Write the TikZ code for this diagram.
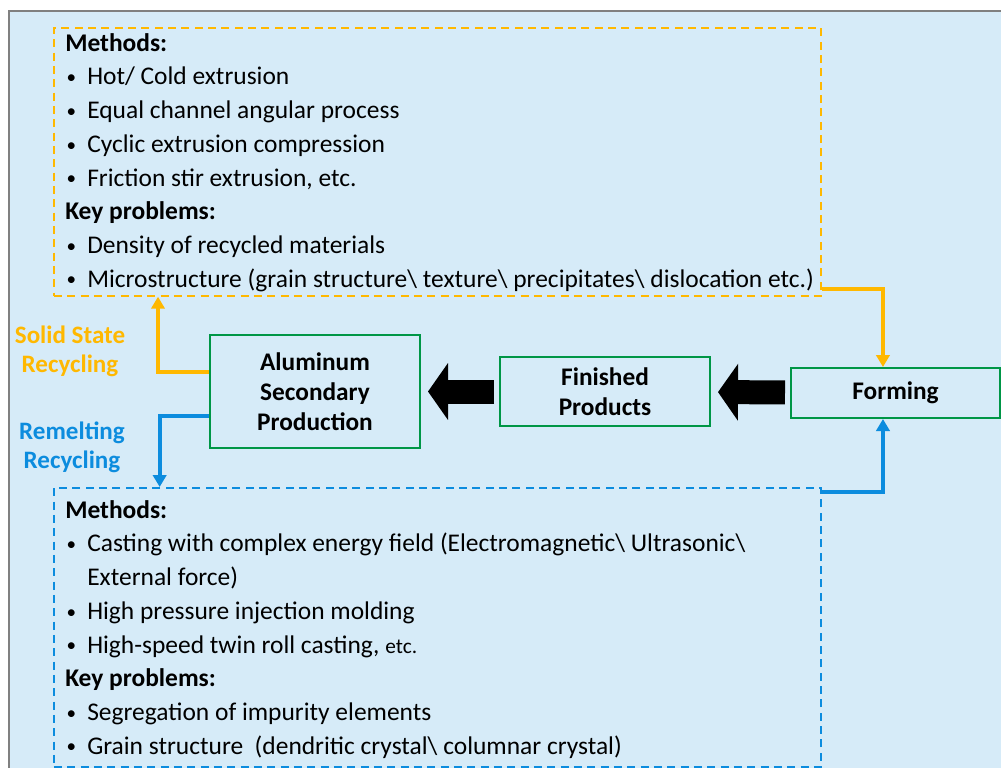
\documentclass[tikz,border=0pt]{standalone}
\usepackage{fontspec}
\setmainfont{Carlito}
\usepackage{xcolor}
\usetikzlibrary{positioning, arrows.meta}
\definecolor{panel}{RGB}{214,235,248}
\definecolor{gold}{RGB}{255,184,0}
\definecolor{sky}{RGB}{12,140,222}
\definecolor{leaf}{RGB}{0,150,70}
\newcommand{\itm}{\makebox[16.5pt][l]{\hspace{1pt}\raisebox{1pt}{\scalebox{0.75}{\textbullet}}}}

\begin{document}
\begin{tikzpicture}[x=0.75pt, y=-0.75pt,
   stage/.style={draw=leaf, line width=1.5pt, align=center, inner sep=0pt,
      font=\bfseries\fontsize{19}{22.5}\selectfont},
   note/.style={draw, dash pattern=on 6pt off 4pt, line width=1.3pt, inner sep=0pt, anchor=north west},
   list/.style={align=left, anchor=north west, inner sep=0pt, font=\fontsize{19.1}{25.3}\selectfont},
   tag/.style={align=center, font=\bfseries\fontsize{18.8}{21.75}\selectfont},
   flow/.style={line width=3.2pt, -{Triangle[length=9pt, width=10pt]}},
   fat/.style={line width=18pt, -{Triangle[length=15pt, width=42pt]}, shorten <=3.75pt, shorten >=5.25pt}]
   \useasboundingbox (0,0) rectangle (1001,768);
   \fill[panel] (9,11) rectangle (1001,768);
   \draw[gray, line width=1pt] (9,768) -- (9,11) -- (1001,11);

   \node[note, draw=gold, minimum width=575.25pt, minimum height=201pt] (solid_box) at (53,27) {};
   \node[note, draw=sky, minimum width=575.25pt, minimum height=209.25pt] (melt_box) at (53,487) {};

   \node[list] (solid_txt) at (65,33) {\textbf{Methods:}\\
      \itm Hot/ Cold extrusion\\
      \itm Equal channel angular process\\
      \itm Cyclic extrusion compression\\
      \itm Friction stir extrusion, etc.\\
      \textbf{Key problems:}\\
      \itm Density of recycled materials\\
      \itm Microstructure (grain structure\textbackslash\ texture\textbackslash\ precipitates\textbackslash\ dislocation etc.)};
   \node[list] (melt_txt) at (65,500) {\textbf{Methods:}\\
      \itm Casting with complex energy field (Electromagnetic\textbackslash\ Ultrasonic\textbackslash\\
      \hspace*{16.5pt}External force)\\
      \itm High pressure injection molding\\
      \itm High-speed twin roll casting, {\fontsize{16}{25.3}\selectfont etc.}\\
      \textbf{Key problems:}\\
      \itm Segregation of impurity elements\\
      \itm Grain structure~ (dendritic crystal\textbackslash\ columnar crystal)};

   \node[stage, minimum width=157.5pt, minimum height=84.75pt] (alu) at (315,391.5) {Aluminum\\Secondary\\Production};
   \node[stage, minimum width=157.5pt, minimum height=51.75pt] (fin) at (605,391.5) {Finished\\Products};
   \node[stage, minimum width=156.75pt, minimum height=37.5pt] (form) at (895.5,393) {Forming};

   \node[tag, text=gold] (solid_tag) at (70,351) {Solid State\\Recycling};
   \node[tag, text=sky] (melt_tag) at (72,447) {Remelting\\Recycling};

   \draw[fat] (fin) -- (alu);
   \draw[fat] (form) -- (fin);
   \draw[flow, gold] ([yshift=14.6pt]alu.west) -| ([xshift=78.75pt]solid_box.south west);
   \draw[flow, gold] ([yshift=6pt]solid_box.south east) -| ([xshift=-9.4pt]form.north);
   \draw[flow, sky] ([yshift=-18.4pt]alu.west) -| ([xshift=80pt]melt_box.north west);
   \draw[flow, sky] ([yshift=-3.75pt]melt_box.north east) -| ([xshift=-9.4pt]form.south);
\end{tikzpicture}
\end{document}
